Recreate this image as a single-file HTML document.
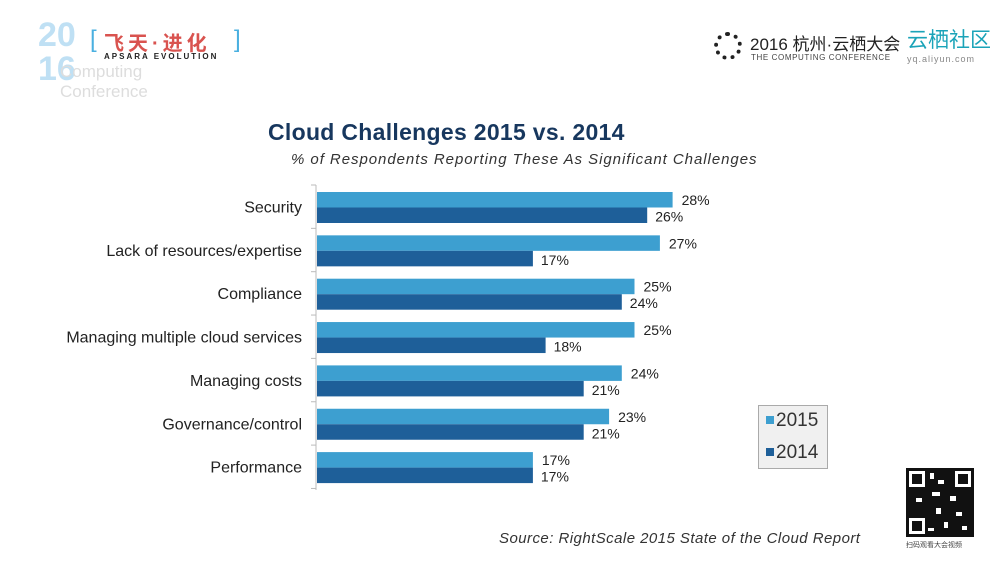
<!DOCTYPE html>
<html><head><meta charset="utf-8"><style>
body{margin:0;width:1000px;height:563px;background:#fff;overflow:hidden;font-family:"Liberation Sans","Noto Sans CJK SC",sans-serif;position:relative}
.a{position:absolute}
</style></head><body>
<div class="a" style="left:38px;top:18px;width:230px;height:86px">
 <div class="a" style="left:0;top:0;font-size:34px;font-weight:bold;color:#bfe0f4;line-height:34px">20</div>
 <div class="a" style="left:0;top:34px;font-size:34px;font-weight:bold;color:#bfe0f4;line-height:34px">16</div>
 <div class="a" style="left:22px;top:44px;font-size:17px;color:#ddd">Computing</div>
 <div class="a" style="left:22px;top:64px;font-size:17px;color:#ddd">Conference</div>
 <div class="a" style="left:52px;top:8px;font-size:24px;color:#4ab0e0">[</div>
 <div class="a" style="left:66px;top:9px;font-size:20px;font-weight:bold;color:#d9534f;letter-spacing:4px">飞天·进化</div>
 <div class="a" style="left:66px;top:34px;font-size:8px;font-weight:bold;color:#222;letter-spacing:2px">APSARA EVOLUTION</div>
 <div class="a" style="left:196px;top:8px;font-size:24px;color:#4ab0e0">]</div>
</div>
<div class="a" style="left:714px;top:30px;width:190px;height:36px">
 <div class="a" style="left:0;top:2px;width:28px;height:28px;border-radius:50%;border:4px dotted #222;box-sizing:border-box"></div>
 <div class="a" style="left:36px;top:0;font-size:17px;color:#222">2016 杭州·云栖大会</div>
 <div class="a" style="left:37px;top:23px;font-size:8px;color:#444;letter-spacing:.6px">THE COMPUTING CONFERENCE</div>
</div>
<div class="a" style="left:907px;top:28px">
 <div style="font-size:21px;color:#1aa3b8;line-height:26px">云栖社区</div>
 <div style="font-size:9px;color:#888;letter-spacing:1px">yq.aliyun.com</div>
</div>
<div class="a" style="left:268px;top:119px;font-size:23px;font-weight:bold;color:#17375e;letter-spacing:.3px">Cloud Challenges 2015 vs. 2014</div>
<div class="a" style="left:291px;top:151px;font-size:15px;font-style:italic;color:#333;letter-spacing:.95px">% of Respondents Reporting These As Significant Challenges</div>
<svg class="a" style="left:0;top:0" width="1000" height="563" id="chart"></svg>
<div class="a" style="left:758px;top:405px;width:70px;height:64px;background:#f0f0f0;border:1px solid #aaa;box-sizing:border-box">
 <div class="a" style="left:7px;top:4px;font-size:19px;color:#333"><span style="display:inline-block;width:8px;height:8px;background:#3d9fd0;margin-right:2px;vertical-align:2px"></span>2015</div>
 <div class="a" style="left:7px;top:36px;font-size:19px;color:#333"><span style="display:inline-block;width:8px;height:8px;background:#1e5f99;margin-right:2px;vertical-align:2px"></span>2014</div>
</div>
<div class="a" style="left:499px;top:530px;font-size:15px;font-style:italic;color:#333;letter-spacing:.45px">Source: RightScale 2015 State of the Cloud Report</div>
<svg class="a" style="left:906px;top:468px" width="68" height="69">
 <rect width="68" height="69" fill="#111"/>
 <rect x="3" y="3" width="16" height="16" fill="#fff"/><rect x="6" y="6" width="10" height="10" fill="#111"/>
 <rect x="49" y="3" width="16" height="16" fill="#fff"/><rect x="52" y="6" width="10" height="10" fill="#111"/>
 <rect x="3" y="50" width="16" height="16" fill="#fff"/><rect x="6" y="53" width="10" height="10" fill="#111"/>
 <g fill="#fff"><rect x="24" y="5" width="4" height="6"/><rect x="32" y="12" width="6" height="4"/><rect x="26" y="24" width="8" height="4"/><rect x="44" y="28" width="6" height="5"/><rect x="10" y="30" width="6" height="4"/><rect x="30" y="40" width="5" height="6"/><rect x="50" y="44" width="6" height="4"/><rect x="38" y="54" width="4" height="6"/><rect x="56" y="58" width="5" height="4"/><rect x="22" y="60" width="6" height="3"/></g>
</svg>
<div class="a" style="left:906px;top:540px;font-size:7px;color:#444">扫码观看大会视频</div>
<script>
const categories=["Security","Lack of resources/expertise","Compliance","Managing multiple cloud services","Managing costs","Governance/control","Performance"];
const values2015=[28,27,25,25,24,23,17];
const values2014=[26,17,24,18,21,21,17];
const svg=document.getElementById('chart');
const NS='http://www.w3.org/2000/svg';
const x0=317, perPct=12.7, top0=192, rowH=43.35, barH=15.5;
const xs=v=>x0+v*perPct;
function mk(t,a){const e=document.createElementNS(NS,t);for(const k in a)e.setAttribute(k,a[k]);svg.appendChild(e);return e;}
const ax=mk('line',{x1:316,y1:185,x2:316,y2:490,stroke:'#bbb','stroke-width':1});


for(let i=0;i<=categories.length;i++){
 const t=mk('line',{x1:311,x2:316,y1:185+i*rowH,y2:185+i*rowH,stroke:'#bbb'});
 
 
}
categories.forEach((c,i)=>{
 const y=top0+i*rowH;
 const l=mk('text',{x:302,y:y+barH+5,'text-anchor':'end','font-size':16,fill:'#222','font-family':'Liberation Sans, sans-serif'});
 l.textContent=c;
 
 
 const b1=mk('rect',{x:x0,y:y,width:xs(values2015[i])-x0,height:barH,fill:'#3d9fd0'});
 
 
 const b2=mk('rect',{x:x0,y:y+barH,width:xs(values2014[i])-x0,height:barH,fill:'#1e5f99'});
 
 
 const t1=mk('text',{x:xs(values2015[i])+9,y:y+13,'font-size':14,fill:'#222','font-family':'Liberation Sans, sans-serif'});
 t1.textContent=values2015[i]+'%';
 
 
 const t2=mk('text',{x:xs(values2014[i])+8,y:y+barH+14,'font-size':14,fill:'#222','font-family':'Liberation Sans, sans-serif'});
 t2.textContent=values2014[i]+'%';
 
 
});
</script>
</body></html>
